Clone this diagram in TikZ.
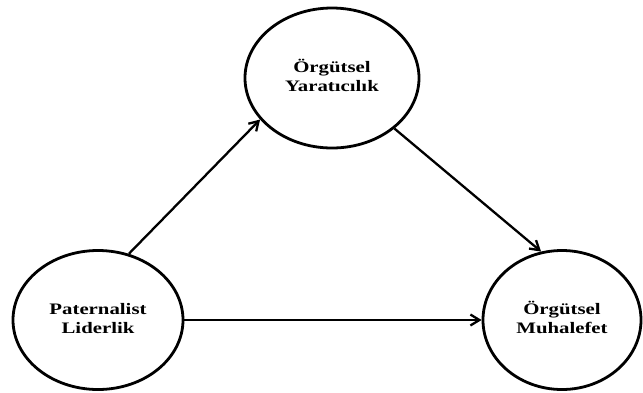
\documentclass[tikz,border=0pt]{standalone}
\usepackage{fontspec}
\usepackage{graphicx}
\newfontfamily\lblfont{Liberation Serif}
\usetikzlibrary{shapes.geometric,arrows.meta}
% two-line bold label, widened horizontally
\newcommand\twoline[2]{\scalebox{1.3}[1]{\begin{tabular}{@{}c@{}}#1\\#2\end{tabular}}}
\begin{document}
\begin{tikzpicture}[x=1pt,y=-1pt,
  construct/.style={draw,ellipse,line width=2.8pt,inner sep=0pt,
    font=\lblfont\bfseries\fontsize{16}{19}\selectfont},
  link/.style={line width=2.3pt,-{Straight Barb[length=9pt,width=11pt,line width=2.3pt]}}]
\useasboundingbox (0,0) rectangle (643,392);
\renewcommand\arraystretch{1}
\setlength\tabcolsep{0pt}
\node[construct,minimum width=174pt,minimum height=140pt] (yar) at (332,78) {\twoline{Örgütsel}{Yaratıcılık}};
\node[construct,minimum width=170pt,minimum height=139pt] (pat) at (98,320) {\twoline{Paternalist}{Liderlik}};
\node[construct,minimum width=158pt,minimum height=139pt] (muh) at (562,320) {\twoline{Örgütsel}{Muhalefet}};
\draw[link] (pat.65.5) -- (yar.210.4);
\draw[link] (yar.-39.5) -- (muh.107.4);
\draw[link] (pat.east) -- (muh.west);
\end{tikzpicture}
\end{document}
